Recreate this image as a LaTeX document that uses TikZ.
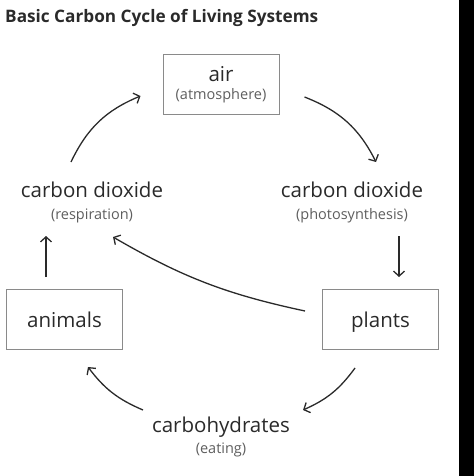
\documentclass[tikz,border=0pt]{standalone}
\usepackage{fontspec}
\setmainfont{Open Sans}
\usetikzlibrary{arrows.meta}
\definecolor{inkgray}{HTML}{2A2A2A}
\definecolor{notegray}{HTML}{5E5E5E}
\definecolor{boxgray}{HTML}{8A8A8A}
\newcommand{\note}[1]{{\fontsize{14.5}{16}\selectfont\color{notegray}#1}}

\begin{document}
\begin{tikzpicture}[->,>={Straight Barb[length=5pt,width=11pt]},x=1pt,y=-1pt]
\tikzstyle{every node}=[text=inkgray,font=\fontsize{20.5}{22}\selectfont,align=center,inner sep=0pt]
\tikzstyle{box}=[draw=boxgray,line width=1pt,minimum width=116pt,minimum height=60pt]
\tikzstyle{flow}=[draw=inkgray,line width=1.3pt]
\useasboundingbox (0,0) rectangle (474,476);
\fill[black,-] (459,0) rectangle (474,476);
\node[anchor=base west,font=\bfseries\fontsize{17.2}{19}\selectfont] (title) at (5,23) {Basic Carbon Cycle of Living Systems};
\node[box] (air) at (221,85) {air\\[-4pt]\note{(atmosphere)}};
\node[anchor=base] (co2l) at (92,219) {carbon dioxide\\\note{(respiration)}};
\node[anchor=base] (co2r) at (352,219) {carbon dioxide\\\note{(photosynthesis)}};
\node[box,text depth=0pt] (animals) at (64.5,319.5) {animals};
\node[box,text depth=0pt] (plants) at (380.5,319.5) {plants};
\node[anchor=base] (carbs) at (221,453) {carbohydrates\\[-1pt]\note{(eating)}};
\path ([xshift=-21pt,yshift=57pt]co2l.base) edge[flow,bend left=21] ([xshift=-22pt,yshift=-11pt]air.west)
      ([xshift=25pt,yshift=-12pt]air.east) edge[flow,bend left=21] ([xshift=24pt,yshift=57pt]co2r.base)
      ([xshift=47pt,yshift=-17pt]co2r.base) edge[flow] ([xshift=18.5pt,yshift=12pt]plants.north)
      ([xshift=-17pt,yshift=8.5pt]plants.west) edge[flow,bend left=9] ([xshift=21pt,yshift=-18pt]co2l.base)
      ([xshift=-25.5pt,yshift=-18pt]plants.south) edge[flow,bend left=15] ([xshift=82pt,yshift=43pt]carbs.base)
      ([xshift=-78pt,yshift=43pt]carbs.base) edge[flow,bend left=15] ([xshift=23.5pt,yshift=-17pt]animals.south)
      ([xshift=-18.5pt,yshift=12pt]animals.north) edge[flow] ([xshift=-46pt,yshift=-17pt]co2l.base);
\end{tikzpicture}
\end{document}
